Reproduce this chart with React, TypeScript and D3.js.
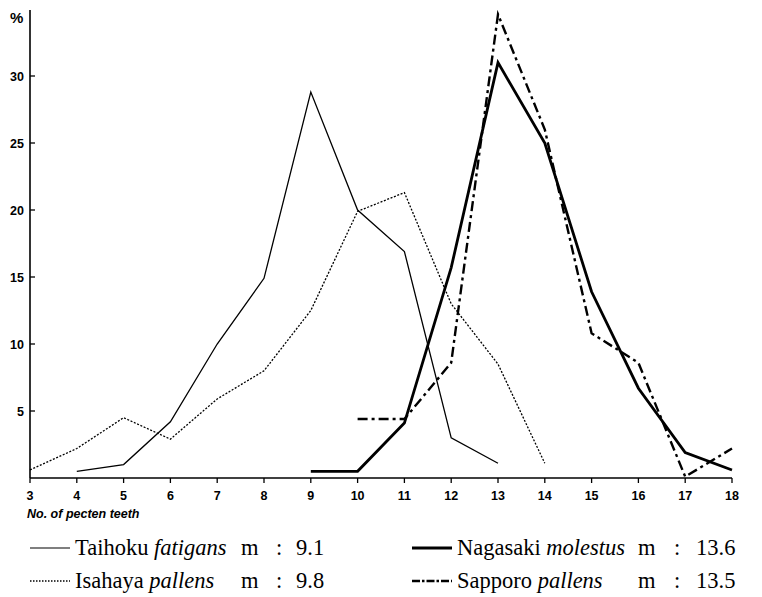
import React from "react";
import * as d3 from "d3";

const teeth = [3, 4, 5, 6, 7, 8, 9, 10, 11, 12, 13, 14, 15, 16, 17, 18];
const yTicks = [5, 10, 15, 20, 25, 30];

const taihokuX = [4, 5, 6, 7, 8, 9, 10, 11, 12, 13];
const taihokuY = [0.5, 1.0, 4.2, 10.0, 14.9, 28.8, 20.0, 16.9, 3.0, 1.1];

const isahayaX = [3, 4, 5, 6, 7, 8, 9, 10, 11, 12, 13, 14];
const isahayaY = [0.6, 2.2, 4.5, 2.9, 5.9, 8.0, 12.5, 19.9, 21.3, 13.0, 8.5, 1.1];

const nagasakiX = [9, 10, 11, 12, 13, 14, 15, 16, 17, 18];
const nagasakiY = [0.5, 0.5, 4.1, 15.7, 31.0, 25.0, 13.9, 6.7, 1.9, 0.6];

const sapporoX = [10, 11, 12, 13, 14, 15, 16, 17, 18];
const sapporoY = [4.4, 4.4, 8.6, 34.6, 26.0, 10.8, 8.6, 0.1, 2.2];

const legendNames = ["Taihoku", "Isahaya", "Nagasaki", "Sapporo"];
const legendSpecies = ["fatigans", "pallens", "molestus", "pallens"];
const legendMeans = ["9.1", "9.8", "13.6", "13.5"];

const W = 762;
const H = 597;

export default function App() {
  const x = d3.scaleLinear().domain([3, 18]).range([30, 732]);
  const y = d3.scaleLinear().domain([0, 35]).range([478, 9]);
  const line = d3
    .line<[number, number]>()
    .x((d) => x(d[0]))
    .y((d) => y(d[1]));
  const pts = (xs: number[], ys: number[]) =>
    xs.map((v, i) => [v, ys[i]] as [number, number]);

  const series = [
    { d: pts(taihokuX, taihokuY), w: 1.3, dash: undefined as string | undefined },
    { d: pts(isahayaX, isahayaY), w: 1.3, dash: "2,1.6" },
    { d: pts(nagasakiX, nagasakiY), w: 2.8, dash: undefined },
    { d: pts(sapporoX, sapporoY), w: 2.4, dash: "10,4,3,4" },
  ];

  const sans = "'Liberation Sans', Arial, sans-serif";
  const serif = "'Liberation Serif', 'DejaVu Serif', serif";
  const fs = 22.5;

  const styles = [
    { col: 0, row: 0, w: 1.2, dash: undefined as string | undefined },
    { col: 0, row: 1, w: 1.3, dash: "1.5,1.5" },
    { col: 1, row: 0, w: 3, dash: undefined },
    { col: 1, row: 1, w: 2.4, dash: "8,2,2.5,2" },
  ];
  const colX = [30, 412];
  const rowY = [555, 588];
  const mX = [241, 638];
  const colonX = [276, 674];
  const valX = [296, 696];

  return (
    <svg width={W} height={H} style={{ display: "block", position: "absolute", left: 0, top: 0 }}>
      <rect width={W} height={H} fill="#fff" />
      <line x1={x(3)} x2={x(3)} y1={10} y2={y(0)} stroke="#000" strokeWidth={1.6} />
      <line x1={x(3)} x2={x(18)} y1={y(0)} y2={y(0)} stroke="#000" strokeWidth={1.6} />
      {yTicks.map((t) => (
        <g key={"y" + t}>
          <line x1={x(3)} x2={x(3) + 5} y1={y(t)} y2={y(t)} stroke="#000" strokeWidth={1.3} />
          <text x={24} y={y(t) + 4.5} textAnchor="end" fontFamily={sans} fontWeight="bold" fontSize={12.5}>
            {t}
          </text>
        </g>
      ))}
      <text x={10} y={23} fontFamily={sans} fontWeight="bold" fontSize={15}>
        %
      </text>
      {teeth.map((t) => (
        <g key={"x" + t}>
          <line x1={x(t)} x2={x(t)} y1={y(0)} y2={y(0) + 5} stroke="#000" strokeWidth={1.3} />
          <text x={x(t)} y={500} textAnchor="middle" fontFamily={sans} fontWeight="bold" fontSize={12.5}>
            {t}
          </text>
        </g>
      ))}
      <text x={27} y={518} fontFamily={sans} fontWeight="bold" fontStyle="italic" fontSize={12.5}>
        No. of pecten teeth
      </text>
      {series.map((s, i) => (
        <path
          key={i}
          d={line(s.d) || ""}
          fill="none"
          stroke="#000"
          strokeWidth={s.w}
          strokeDasharray={s.dash}
          strokeLinejoin="miter"
        />
      ))}
      {styles.map((l, i) => {
        const lx = colX[l.col];
        const ly = rowY[l.row];
        return (
          <g key={"l" + i}>
            <line x1={lx} x2={lx + 40} y1={ly - 7} y2={ly - 7} stroke="#000" strokeWidth={l.w} strokeDasharray={l.dash} />
            <text x={lx + 45} y={ly} fontFamily={serif} fontSize={fs}>
              {legendNames[i] + " "}
              <tspan fontStyle="italic">{legendSpecies[i]}</tspan>
            </text>
            <text x={mX[l.col]} y={ly} fontFamily={serif} fontSize={fs}>m</text>
            <text x={colonX[l.col]} y={ly} fontFamily={serif} fontSize={fs}>:</text>
            <text x={valX[l.col]} y={ly} fontFamily={serif} fontSize={fs}>
              {legendMeans[i]}
            </text>
          </g>
        );
      })}
    </svg>
  );
}
